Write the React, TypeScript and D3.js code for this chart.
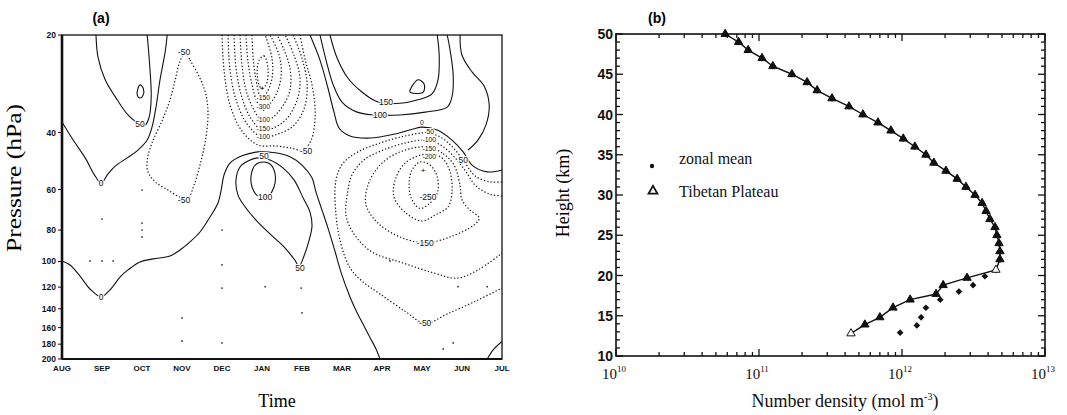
import * as d3 from "d3";
import { useEffect, useRef } from "react";

type Pt = [number, number]; // [month index counted from AUG, pressure in hPa]

// ---------- panel (a): contour lines ----------
const monthLabels = ["AUG", "SEP", "OCT", "NOV", "DEC", "JAN", "FEB", "MAR", "APR", "MAY", "JUN", "JUL"];
const pressureTicks = [20, 40, 60, 80, 100, 120, 140, 160, 180, 200];

const zeroUpperLeft: Pt[] = [[0, 37.1], [0.28, 42.2], [0.58, 47.9], [0.83, 54.5], [0.98, 57.2], [1.15, 53.7], [1.33, 50.8], [1.63, 47.9], [1.9, 45.3], [2.13, 42.2], [2.25, 38.5], [2.35, 33.4], [2.45, 27.5], [2.58, 22.5], [2.63, 20]];
const fiftyUpperLeft: Pt[] = [[0.85, 20], [0.9, 23.4], [1.08, 27.5], [1.38, 31.7], [1.65, 35.3], [1.9, 37.4], [2.08, 37.9], [2.18, 35.8], [2.23, 31.0], [2.2, 25.6], [2.13, 20]];
const smallLoopSep: Pt[] = [[1.9, 29.2], [1.95, 28.5], [2.03, 29.2], [2.03, 30.6], [1.95, 31.3], [1.88, 30.6]];
const minus50Nov: Pt[] = [[3.08, 22.5], [3.2, 23.9], [3.45, 27.2], [3.6, 30.6], [3.65, 35.3], [3.58, 42.8], [3.45, 50.4], [3.3, 58.1], [3.15, 63.7], [2.95, 63.3], [2.65, 60.2], [2.33, 56.8], [2.15, 52.9], [2.13, 48.6], [2.25, 43.1], [2.53, 36.1], [2.7, 31.7], [2.83, 27.5], [2.93, 24.5]];
const zeroLower: Pt[] = [[0, 99.6], [0.2, 102.5], [0.45, 110.9], [0.7, 121.6], [0.98, 128.7], [1.15, 124.2], [1.28, 119.1], [1.45, 111.7], [1.65, 106.2], [1.95, 100.3], [2.28, 98.2], [2.7, 96.2], [2.95, 92.2], [3.2, 87.0], [3.45, 81.1], [3.7, 72.9], [3.9, 66.0], [3.98, 60.2], [4.05, 54.1], [4.2, 49.7], [4.5, 47.2], [4.9, 45.9], [5.33, 46.2], [5.7, 47.5], [6.0, 50.4], [6.25, 55.2], [6.35, 61.1], [6.5, 69.4], [6.65, 78.9], [6.83, 93.5], [6.98, 108.4], [7.2, 128.7], [7.38, 144.2], [7.55, 158.1], [7.7, 171.7], [7.85, 186.2], [7.95, 200]];
const fiftyJan: Pt[] = [[4.9, 47.9], [4.65, 49.0], [4.45, 51.1], [4.35, 56.0], [4.4, 62.4], [4.58, 67.9], [4.85, 74.5], [5.2, 82.2], [5.55, 90.2], [5.8, 98.2], [5.93, 103.2], [6.05, 96.2], [6.18, 85.8], [6.25, 77.7], [6.2, 70.4], [6.03, 63.7], [5.8, 56.0], [5.53, 51.5], [5.2, 48.6]];
const hundredJan: Pt[] = [[5.03, 49.3], [5.23, 50.4], [5.33, 54.1], [5.3, 58.9], [5.15, 62.8], [4.9, 62.8], [4.75, 58.9], [4.73, 54.1], [4.83, 50.4]];

const janM50: Pt[] = [[4.0, 20], [4.05, 25.6], [4.2, 32.9], [4.5, 39.6], [4.9, 43.7], [5.33, 44.0], [5.7, 44.6], [6.03, 45.3], [6.23, 42.2], [6.33, 35.3], [6.25, 28.5], [6.08, 23.9], [5.95, 20]];
const janM100: Pt[] = [[4.15, 20], [4.2, 25.6], [4.35, 31.7], [4.63, 37.7], [5.0, 41.3], [5.4, 40.4], [5.78, 38.2], [6.05, 33.8], [6.13, 28.5], [6.0, 23.6], [5.78, 20]];
const janM150: Pt[] = [[4.3, 20], [4.35, 25.3], [4.48, 30.6], [4.7, 35.8], [5.0, 39.3], [5.33, 38.5], [5.63, 36.1], [5.88, 31.7], [5.95, 27.2], [5.8, 23.1], [5.58, 20]];
const janM200: Pt[] = [[4.45, 20], [4.5, 24.8], [4.6, 29.6], [4.8, 34.1], [5.03, 37.1], [5.25, 36.1], [5.5, 33.4], [5.7, 29.6], [5.7, 25.3], [5.55, 22.2], [5.38, 20]];
const janM250: Pt[] = [[4.6, 20], [4.65, 24.2], [4.75, 28.5], [4.88, 32.2], [5.03, 34.1], [5.2, 32.6], [5.38, 30.0], [5.48, 26.6], [5.43, 23.1], [5.2, 20]];
const janM300: Pt[] = [[4.75, 20], [4.78, 23.6], [4.85, 27.5], [4.98, 31.3], [5.1, 30.4], [5.25, 27.2], [5.25, 23.6], [5.08, 20]];
const janM350: Pt[] = [[4.93, 23.9], [5.05, 23.2], [5.15, 25.3], [5.1, 28.5], [4.98, 29.2], [4.88, 26.6]];

const zeroSpring: Pt[] = [[6.2, 20], [6.45, 23.9], [6.65, 29.2], [6.8, 34.6], [6.93, 38.8], [7.2, 41.0], [7.7, 41.6], [8.33, 40.4], [8.78, 39.0], [9.0, 38.5], [9.38, 39.3], [9.75, 42.2], [10.03, 45.9], [10.25, 50.4], [10.63, 52.9], [11.0, 52.2]];
const fiftyJune: Pt[] = [[9.95, 20], [10.0, 23.1], [10.25, 26.0], [10.55, 28.7], [10.68, 32.9], [10.6, 37.9], [10.4, 42.2], [10.15, 45.3]];
const hundredSpring: Pt[] = [[6.45, 20], [6.6, 23.9], [6.78, 28.5], [7.0, 32.2], [7.38, 34.6], [7.78, 35.3], [8.45, 35.3], [9.08, 34.6], [9.63, 33.4], [9.75, 31.0], [9.78, 26.6], [9.7, 22.2], [9.63, 20]];
const oneFiftySpring: Pt[] = [[6.7, 20], [6.88, 23.6], [7.15, 27.2], [7.5, 30.0], [7.9, 32.2], [8.45, 32.5], [8.9, 31.7], [9.25, 30.4], [9.4, 27.5], [9.43, 23.1], [9.38, 20]];
const twoHundredSpring: Pt[] = [[8.7, 30.0], [8.9, 27.5], [9.05, 28.3], [9.03, 30.0]];

const mayM50: Pt[] = [[11.0, 56.8], [10.7, 56.8], [10.33, 54.5], [10.08, 49.7], [9.83, 45.3], [9.5, 41.6], [9.13, 40.1], [8.58, 41.0], [7.95, 43.1], [7.4, 45.9], [7.03, 49.7], [6.85, 56.0], [6.85, 71.9], [6.98, 88.9], [7.2, 104.7], [7.5, 114.9], [7.95, 126], [8.6, 143.2], [9.08, 155.3], [9.63, 145.2], [10.35, 132.4], [11.0, 120.8]];
const mayM100: Pt[] = [[11.0, 62.8], [10.7, 62.0], [10.35, 58.5], [10.1, 52.9], [9.83, 47.9], [9.5, 44.0], [9.13, 42.2], [8.58, 43.1], [8.03, 45.3], [7.55, 48.6], [7.25, 54.1], [7.13, 62.4], [7.1, 71.9], [7.28, 81.6], [7.75, 93.5], [8.53, 101.1], [9.28, 108.4], [9.88, 112.6], [10.4, 106.2], [11.0, 94.2]];
const mayM150: Pt[] = [[9.13, 44.3], [9.53, 46.5], [9.8, 50.4], [9.95, 58.1], [10.0, 64.6], [10.2, 69.4], [10.43, 73.4], [10.3, 77.2], [9.7, 84.0], [9.08, 87.6], [8.45, 84.0], [7.9, 76.1], [7.6, 66.9], [7.65, 58.1], [7.95, 50.4], [8.45, 45.9]];
const mayM200: Pt[] = [[9.13, 46.5], [9.5, 47.9], [9.7, 52.9], [9.75, 61.1], [9.65, 67.9], [9.33, 71.9], [9.0, 75.0], [8.6, 70.9], [8.3, 63.3], [8.33, 56.0], [8.58, 49.7]];
const mayM250: Pt[] = [[8.95, 49.3], [9.2, 50.4], [9.38, 54.8], [9.38, 61.6], [9.2, 66.0], [8.95, 68.6], [8.73, 63.7], [8.68, 56.8], [8.75, 52.2]];
const cornerJuly: Pt[] = [[10.63, 200], [10.8, 186.2], [11.0, 176.6]];

const contourLines = [
  { level: 0, pts: zeroUpperLeft },
  { level: 50, pts: fiftyUpperLeft },
  { level: 100, pts: smallLoopSep, closed: true },
  { level: -50, pts: minus50Nov, closed: true },
  { level: 0, pts: zeroLower },
  { level: 50, pts: fiftyJan, closed: true },
  { level: 100, pts: hundredJan, closed: true },
  { level: -50, pts: janM50 },
  { level: -100, pts: janM100 },
  { level: -150, pts: janM150 },
  { level: -200, pts: janM200 },
  { level: -250, pts: janM250 },
  { level: -300, pts: janM300 },
  { level: -350, pts: janM350, closed: true },
  { level: 0, pts: zeroSpring },
  { level: 50, pts: fiftyJune },
  { level: 100, pts: hundredSpring },
  { level: 150, pts: oneFiftySpring },
  { level: 200, pts: twoHundredSpring, closed: true },
  { level: -50, pts: mayM50 },
  { level: -100, pts: mayM100 },
  { level: -150, pts: mayM150, closed: true },
  { level: -200, pts: mayM200, closed: true },
  { level: -250, pts: mayM250, closed: true },
  { level: 50, pts: cornerJuly },
];

const contourLabels = [
  { text: "0", m: 0.98, p: 57.2 },
  { text: "50", m: 1.95, p: 37.7 },
  { text: "-50", m: 3.05, p: 22.5 },
  { text: "-50", m: 3.05, p: 64.6 },
  { text: "0", m: 0.98, p: 128.7 },
  { text: "50", m: 5.05, p: 47.4 },
  { text: "100", m: 5.08, p: 63.3 },
  { text: "50", m: 5.95, p: 104.7 },
  { text: "-50", m: 6.1, p: 45.6 },
  { text: "150", m: 8.1, p: 32.2 },
  { text: "100", m: 7.95, p: 35.3 },
  { text: "50", m: 10.03, p: 48.6 },
  { text: "-250", m: 9.15, p: 63.3 },
  { text: "-150", m: 9.08, p: 87.6 },
  { text: "-50", m: 9.08, p: 155.3 },
];

// labels squeezed into the two narrow necks (Jan and Apr-May)
const stackedLabels = [
  { text: "-150", m: 5.03, p: 31.3 },
  { text: "-300", m: 5.03, p: 33.2 },
  { text: "-100", m: 5.03, p: 36.6 },
  { text: "-150", m: 5.03, p: 38.9 },
  { text: "-100", m: 5.03, p: 41.3 },
  { text: "0", m: 9.0, p: 37.4 },
  { text: "-50", m: 9.18, p: 39.7 },
  { text: "-100", m: 9.18, p: 42.2 },
  { text: "-150", m: 9.18, p: 44.7 },
  { text: "-200", m: 9.18, p: 47.5 },
];

const gridDots: Pt[] = [[1.0, 74.0], [2.0, 76.1], [2.0, 80.0], [2.0, 84.0], [0.7, 99.6], [1.0, 99.6], [1.28, 99.6], [4.0, 80.0], [4.0, 102.5], [4.0, 120.8], [5.08, 119.6], [3.0, 149.4], [3.0, 176.0], [4.0, 178.4], [5.98, 120.8], [6.0, 144.2], [8.2, 99.6], [9.9, 119.6], [10.63, 119.6], [9.53, 186.2], [9.78, 178.4], [2.0, 60.2]];
const minimumMarks: Pt[] = [[5.0, 29.2], [9.03, 52.2]];

// ---------- panel (b): number density profiles ----------
const zonalHeight = [50, 49, 48, 47, 46, 45, 44, 43, 42, 41, 40, 39, 38, 37, 36, 35, 34, 33, 32, 31, 30, 29, 28, 27, 26, 25, 24, 23, 22, 20.7, 19.9, 18.8, 18.0, 17.0, 16.0, 14.8, 13.8, 12.9];
const zonalDensity = [5.8e10, 7.2e10, 8.4e10, 1.05e11, 1.25e11, 1.7e11, 2.17e11, 2.55e11, 3.24e11, 4.26e11, 5.33e11, 6.79e11, 8.37e11, 1.02e12, 1.23e12, 1.47e12, 1.67e12, 2.03e12, 2.43e12, 2.8e12, 3.24e12, 3.63e12, 3.87e12, 4.12e12, 4.47e12, 4.61e12, 4.77e12, 4.84e12, 4.84e12, 4.54e12, 3.8e12, 3.14e12, 2.5e12, 1.85e12, 1.47e12, 1.36e12, 1.27e12, 9.7e11];
const tibetHeight = [50, 49, 48, 47, 46, 45, 44, 43, 42, 41, 40, 39, 38, 37, 36, 35, 34, 33, 32, 31, 30, 29, 28, 27, 26, 25, 24, 23, 22, 20.7, 19.7, 18.8, 17.7, 17.0, 16.0, 14.8, 13.9, 12.8];
const tibetDensity = [5.8e10, 7.2e10, 8.4e10, 1.05e11, 1.25e11, 1.7e11, 2.17e11, 2.55e11, 3.24e11, 4.26e11, 5.33e11, 6.79e11, 8.37e11, 1.02e12, 1.23e12, 1.47e12, 1.67e12, 2.03e12, 2.43e12, 2.8e12, 3.24e12, 3.63e12, 3.87e12, 4.12e12, 4.47e12, 4.61e12, 4.77e12, 4.84e12, 4.84e12, 4.54e12, 2.85e12, 1.94e12, 1.73e12, 1.14e12, 8.65e11, 7.0e11, 5.5e11, 4.4e11];
const heightTicks = [10, 15, 20, 25, 30, 35, 40, 45, 50];
const densityDecades = [10, 11, 12, 13];

const SERIF = "'Liberation Serif', 'Times New Roman', serif";
const SANS = "'Liberation Sans', Arial, sans-serif";
const INK = "#111";

export default function App() {
  const ref = useRef<SVGSVGElement>(null);

  useEffect(() => {
    const svg = d3.select(ref.current);
    svg.selectAll("*").remove();
    drawContours(svg);
    drawProfile(svg);
  }, []);

  return (
    <svg
      ref={ref}
      width={1067}
      height={415}
      style={{ position: "absolute", left: 0, top: 0, background: "#fff" }}
    />
  );
}

function drawContours(svg: d3.Selection<SVGSVGElement | null, unknown, null, undefined>) {
  const x = d3.scaleLinear().domain([0, 11]).range([62, 502]);
  const y = d3.scaleLog().domain([20, 200]).range([35, 359]);
  const g = svg.append("g");

  g.append("clipPath").attr("id", "clipA")
    .append("rect").attr("x", 62).attr("y", 35).attr("width", 440).attr("height", 324);

  const lines = g.append("g").attr("clip-path", "url(#clipA)");
  contourLines.forEach((c) => {
    const curve = c.closed ? d3.curveCatmullRomClosed.alpha(0.5) : d3.curveCatmullRom.alpha(0.5);
    const gen = d3.line<Pt>().x((d) => x(d[0])).y((d) => y(d[1])).curve(curve);
    lines.append("path")
      .attr("d", gen(c.pts))
      .attr("fill", "none")
      .attr("stroke", INK)
      .attr("stroke-width", c.level < 0 ? 1.2 : 1.1)
      .attr("stroke-dasharray", c.level < 0 ? "1.3 2.1" : null);
  });

  lines.selectAll(".dot").data(gridDots).enter().append("circle")
    .attr("cx", (d) => x(d[0])).attr("cy", (d) => y(d[1])).attr("r", 0.9).attr("fill", "#333");

  lines.selectAll(".plus").data(minimumMarks).enter().append("text")
    .attr("x", (d) => x(d[0])).attr("y", (d) => y(d[1]))
    .attr("text-anchor", "middle").attr("dy", "0.35em")
    .attr("font-family", SANS).attr("font-size", 8).text("+");

  const addLabels = (data: { text: string; m: number; p: number }[], size: number) => {
    data.forEach((d) => {
      g.append("text")
        .attr("x", x(d.m)).attr("y", y(d.p))
        .attr("dy", "0.35em").attr("text-anchor", "middle")
        .attr("font-family", SANS).attr("font-size", size)
        .attr("fill", INK)
        .attr("stroke", "#fff").attr("stroke-width", 2).attr("paint-order", "stroke")
        .text(d.text);
    });
  };
  addLabels(contourLabels, 8.5);
  addLabels(stackedLabels, 6.8);

  // frame
  g.append("rect").attr("x", 62).attr("y", 35).attr("width", 440).attr("height", 324)
    .attr("fill", "none").attr("stroke", INK).attr("stroke-width", 1.3);
  g.append("line").attr("x1", 62).attr("x2", 62).attr("y1", 35).attr("y2", 359)
    .attr("stroke", INK).attr("stroke-width", 2.6);
  g.append("line").attr("x1", 62).attr("x2", 502).attr("y1", 359).attr("y2", 359)
    .attr("stroke", INK).attr("stroke-width", 1.8);

  pressureTicks.forEach((p) => {
    g.append("line").attr("x1", 58).attr("x2", 62).attr("y1", y(p)).attr("y2", y(p))
      .attr("stroke", INK).attr("stroke-width", 1);
    g.append("text").attr("x", 56).attr("y", y(p)).attr("dy", "0.35em")
      .attr("text-anchor", "end").attr("font-family", SANS).attr("font-weight", "bold")
      .attr("font-size", 8.5).attr("fill", INK).text(p);
  });

  monthLabels.forEach((mLabel, i) => {
    g.append("text").attr("x", x(i)).attr("y", 371)
      .attr("text-anchor", "middle").attr("font-family", SANS).attr("font-weight", "bold")
      .attr("font-size", 8).attr("fill", INK).text(mLabel);
  });

  g.append("text").attr("x", 101).attr("y", 23).attr("text-anchor", "middle")
    .attr("font-family", SANS).attr("font-weight", "bold").attr("font-size", 14).text("(a)");
  g.append("text").attr("x", 277).attr("y", 407).attr("text-anchor", "middle")
    .attr("font-family", SERIF).attr("font-size", 18).text("Time");
  g.append("text").attr("transform", "translate(21,178) rotate(-90)")
    .attr("text-anchor", "middle").attr("font-family", SERIF).attr("font-size", 20)
    .attr("textLength", 148).attr("lengthAdjust", "spacingAndGlyphs")
    .text("Pressure (hPa)");
}

function drawProfile(svg: d3.Selection<SVGSVGElement | null, unknown, null, undefined>) {
  const x = d3.scaleLog().domain([1e10, 1e13]).range([616, 1045]);
  const y = d3.scaleLinear().domain([10, 50]).range([356, 34]);
  const g = svg.append("g");

  // ticks on all four sides, pointing inward
  y.ticks(40).forEach((k) => {
    const len = k % 5 === 0 ? 7 : 4;
    g.append("line").attr("x1", 616).attr("x2", 616 + len).attr("y1", y(k)).attr("y2", y(k))
      .attr("stroke", INK).attr("stroke-width", 1.3);
    g.append("line").attr("x1", 1045).attr("x2", 1045 - len).attr("y1", y(k)).attr("y2", y(k))
      .attr("stroke", INK).attr("stroke-width", 1.3);
  });
  x.ticks().forEach((v) => {
    const lg = Math.log10(v);
    const major = Math.abs(lg - Math.round(lg)) < 1e-6;
    const len = major ? 7 : 4;
    g.append("line").attr("x1", x(v)).attr("x2", x(v)).attr("y1", 356).attr("y2", 356 - len)
      .attr("stroke", INK).attr("stroke-width", 1.3);
    g.append("line").attr("x1", x(v)).attr("x2", x(v)).attr("y1", 34).attr("y2", 34 + len)
      .attr("stroke", INK).attr("stroke-width", 1.3);
  });

  g.append("rect").attr("x", 616).attr("y", 34).attr("width", 429).attr("height", 322)
    .attr("fill", "none").attr("stroke", INK).attr("stroke-width", 1.6);

  heightTicks.forEach((k) => {
    g.append("text").attr("x", 613).attr("y", y(k)).attr("dy", "0.36em")
      .attr("text-anchor", "end").attr("font-family", SANS).attr("font-weight", "bold")
      .attr("font-size", 14).attr("fill", INK).text(k);
  });
  densityDecades.forEach((e) => {
    const t = g.append("text").attr("x", x(Math.pow(10, e)) - 2).attr("y", 379)
      .attr("text-anchor", "middle").attr("font-family", SERIF).attr("font-size", 15).attr("fill", INK);
    t.append("tspan").text("10");
    t.append("tspan").attr("dy", -7).attr("font-size", 9).text(e);
  });

  // Tibetan Plateau profile line
  const pts: Pt[] = tibetDensity.map((v, i) => [v, tibetHeight[i]]);
  const gen = d3.line<Pt>().x((d) => x(d[0])).y((d) => y(d[1]));
  g.append("path").attr("d", gen(pts)).attr("fill", "none")
    .attr("stroke", INK).attr("stroke-width", 1.4);

  const zonal: Pt[] = zonalDensity.map((v, i) => [v, zonalHeight[i]]);
  g.selectAll(".zonal").data(zonal).enter().append("path")
    .attr("d", d3.symbol(d3.symbolSquare, 22)())
    .attr("transform", (d) => `translate(${x(d[0])},${y(d[1])}) rotate(45)`)
    .attr("fill", INK);

  const tri = d3.symbol(d3.symbolTriangle, 30)();
  g.selectAll(".tibet").data(pts).enter().append("path")
    .attr("d", tri)
    .attr("transform", (d) => `translate(${x(d[0])},${y(d[1])})`)
    .attr("fill", (d, i) => (i === pts.length - 1 || d[1] === 20.7 ? "#fff" : INK))
    .attr("stroke", INK).attr("stroke-width", 1);

  // legend
  g.append("circle").attr("cx", 652).attr("cy", 166).attr("r", 2.2).attr("fill", INK);
  g.append("text").attr("x", 679).attr("y", 164).attr("font-family", SERIF)
    .attr("font-size", 16).attr("fill", INK).text("zonal mean");
  g.append("path").attr("d", d3.symbol(d3.symbolTriangle, 34)())
    .attr("transform", "translate(653,191)").attr("fill", "#fff")
    .attr("stroke", INK).attr("stroke-width", 1.8);
  g.append("text").attr("x", 679).attr("y", 197).attr("font-family", SERIF)
    .attr("font-size", 16).attr("fill", INK).text("Tibetan Plateau");

  g.append("text").attr("x", 657).attr("y", 23).attr("text-anchor", "middle")
    .attr("font-family", SANS).attr("font-weight", "bold").attr("font-size", 14).text("(b)");
  g.append("text").attr("transform", "translate(569,193) rotate(-90)")
    .attr("text-anchor", "middle").attr("font-family", SERIF).attr("font-size", 18)
    .text("Height (km)");

  const title = g.append("text").attr("x", 845).attr("y", 407).attr("text-anchor", "middle")
    .attr("font-family", SERIF).attr("font-size", 18).attr("fill", INK);
  title.append("tspan").text("Number density (mol m");
  title.append("tspan").attr("dy", -7).attr("font-size", 10).text("-3");
  title.append("tspan").attr("dy", 7).text(")");
}
